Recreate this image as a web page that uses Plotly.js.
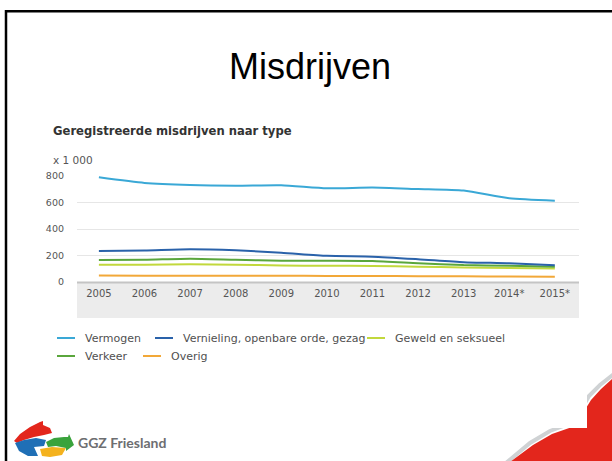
<!DOCTYPE html>
<html><head><meta charset="utf-8">
<script src="https://cdn.plot.ly/plotly-3.0.1.min.js"></script>
<style>html,body{margin:0;padding:0;background:#fff;}#chart{width:612px;height:461px;}</style>
</head><body><div id="chart"></div>
<script>
// ---- data ----
const years = ['2005','2006','2007','2008','2009','2010','2011','2012','2013','2014*','2015*'];
const seriesNames = ['Vermogen','Vernieling, openbare orde, gezag','Geweld en seksueel','Verkeer','Overig'];
const vermogen   = [790, 748, 732, 727, 730, 707, 713, 702, 690, 632, 614];
const vernieling = [234, 238, 247, 239, 221, 198, 191, 172, 150, 141, 126];
const geweld     = [131, 131, 134, 131, 124, 123, 121, 116, 109, 106, 101];
const verkeer    = [166, 168, 176, 168, 161, 160, 158, 142, 128, 123, 116];
const overig     = [49, 48, 48, 47, 47, 46, 45, 44, 43, 41, 40];
const yTicks = [0, 200, 400, 600, 800];
const colors = ['#3aa8d6','#2a62aa','#c2d83c','#5aa63c','#f2a838'];

// plot area in pixels
const PL = 77, PR = 579, PT = 176, PB = 282;
const px = x => (x - PL) / (PR - PL);
const py = y => (PB - y) / (PB - PT);
function path(pts){ return 'M' + pts.map(p => px(p[0]) + ',' + py(p[1])).join('L') + 'Z'; }

const allSeries = [vermogen, vernieling, geweld, verkeer, overig];
const traces = allSeries.map((vals, i) => ({
  x: years, y: vals, type: 'scatter', mode: 'lines', name: seriesNames[i],
  line: {color: colors[i], width: 2, shape: 'spline', smoothing: 0.6},
  hoverinfo: 'skip'
}));
const order = [4, 2, 3, 1, 0];
const data = order.map(i => traces[i]);

const shapes = [];
// slide border
shapes.push({type:'rect', xref:'paper', yref:'paper', x0:px(6), x1:px(660), y0:py(11.2), y1:py(520),
  line:{color:'#000', width:2.5}, fillcolor:'rgba(0,0,0,0)', layer:'below'});
// red corner swoosh with grey edge
shapes.push({type:'path', xref:'paper', yref:'paper', layer:'below',
  path: 'M'+[[506,463],[530,443],[550,431],[574,422],[589,396],[600,385],[614,374]].map(p=>px(p[0])+','+py(p[1])).join('L'),
  line:{color:'#cfd2d4', width:4}});
shapes.push({type:'path', xref:'paper', yref:'paper', layer:'below',
  path: path([[510,462],[533,445],[552,434],[575,426],[591,400],[601,389],[613,378],[613,462]]),
  fillcolor:'#e3261c', line:{width:0}});
shapes.push({type:'rect', xref:'paper', yref:'paper', layer:'below', x0:px(490), x1:px(587), y0:py(428), y1:py(360),
  fillcolor:'#ffffff', line:{width:0}});
// grey band under axis
shapes.push({type:'rect', xref:'paper', yref:'paper', layer:'below', x0:0, x1:1, y0:py(318), y1:0,
  fillcolor:'#ececec', line:{width:0}});
shapes.push({type:'line', xref:'paper', yref:'paper', layer:'above', x0:0, x1:1, y0:py(282.5), y1:py(282.5),
  line:{color:'#c4c4c4', width:2}});
// logo pieces
shapes.push({type:'path', xref:'paper', yref:'paper', layer:'below', fillcolor:'#e3261c', line:{width:0},
  path: path([[14,441],[20,434],[30,427],[40,422],[43,421],[43,425],[50,428],[52,433],[44,435],[34,437],[24,440],[17,443]])});
shapes.push({type:'path', xref:'paper', yref:'paper', layer:'below', fillcolor:'#1f6fb6', line:{width:0},
  path: path([[15,443],[24,440],[36,438],[46,440],[44,446],[34,447],[38,456],[28,456],[19,451]])});
shapes.push({type:'path', xref:'paper', yref:'paper', layer:'below', fillcolor:'#f4b21e', line:{width:0},
  path: path([[40,449],[52,447],[66,448],[62,455],[50,457],[42,456]])});
shapes.push({type:'path', xref:'paper', yref:'paper', layer:'below', fillcolor:'#3aa33c', line:{width:0},
  path: path([[46,442],[54,438],[64,437],[68,437],[69,434],[74,445],[66,451],[66,448],[56,446],[48,447]])});

// manual legend
const legendPos = [[57,338],[155,338],[367,338],[57,356],[143,356]];
const annotations = [];
seriesNames.forEach((n, i) => {
  const [lx, ly] = legendPos[i];
  shapes.push({type:'line', xref:'paper', yref:'paper', x0:px(lx), x1:px(lx+18), y0:py(ly), y1:py(ly),
    line:{color:colors[i], width:2}});
  annotations.push({xref:'paper', yref:'paper', x:px(lx+26), y:py(ly), xanchor:'left', yanchor:'middle',
    text:n, showarrow:false, font:{family:'DejaVu Sans', size:11, color:'#505050'}});
});
annotations.push({xref:'paper', yref:'paper', x:px(51), y:py(131), xanchor:'left', yanchor:'middle',
  text:'Geregistreerde misdrijven naar type', showarrow:false,
  font:{family:'DejaVu Sans', size:11.6, color:'#333', weight:'bold'}});
annotations.push({xref:'paper', yref:'paper', x:px(51), y:py(160), xanchor:'left', yanchor:'middle',
  text:'x 1 000', showarrow:false, font:{family:'DejaVu Sans', size:10.5, color:'#555'}});
annotations.push({xref:'paper', yref:'paper', x:px(76), y:py(442), xanchor:'left', yanchor:'middle',
  text:'GGZ Friesland', showarrow:false, font:{family:'Lato', size:14, color:'#6d6e71', weight:'bold'}});

const layout = {
  width: 612, height: 461,
  margin: {l: PL, r: 612 - PR, t: PT, b: 461 - PB, pad: 0},
  paper_bgcolor: '#ffffff', plot_bgcolor: 'rgba(0,0,0,0)',
  showlegend: false,
  title: {text: 'Misdrijven', x: 310/612, xref: 'container', xanchor: 'center',
    y: 1 - 66.5/461, yref: 'container', yanchor: 'middle',
    font: {family: 'Liberation Sans', size: 36, color: '#000'}},
  xaxis: {type: 'category', range: [-0.48, 10.53], showgrid: false, zeroline: false, showline: false,
    tickfont: {family: 'DejaVu Sans', size: 10, color: '#555'}, ticks: '', ticklabelstandoff: 4, fixedrange: true},
  yaxis: {range: [0, 800], tickvals: yTicks, ticktext: yTicks.map(String), showgrid: true, gridcolor: '#e6e6e6', gridwidth: 1,
    zeroline: false, showline: false, ticks: '', ticklabelstandoff: 12,
    tickfont: {family: 'DejaVu Sans', size: 9.5, color: '#555'}, fixedrange: true},
  shapes: shapes,
  annotations: annotations
};
Plotly.newPlot('chart', data, layout, {displayModeBar: false, staticPlot: true});
</script></body></html>
